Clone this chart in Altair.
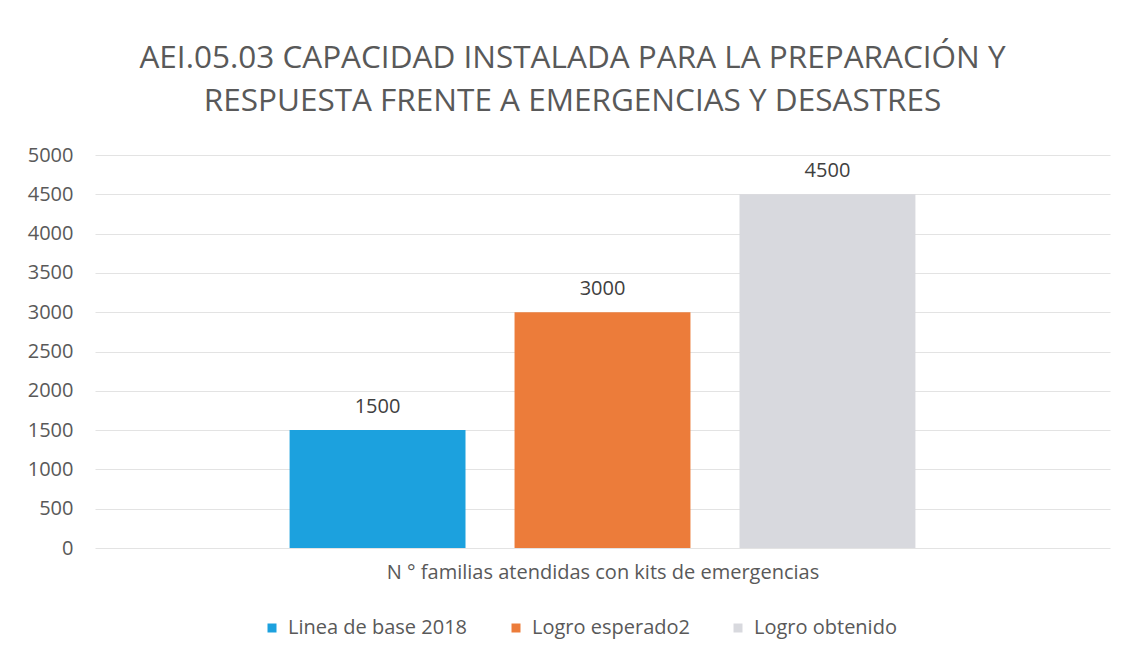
import altair as alt
import pandas as pd

series = ["Linea de base 2018", "Logro esperado2", "Logro obtenido"]
values = [1500, 3000, 4500]
colors = ["#1CA1DE", "#EC7C3A", "#D8D9DE"]
category_label = "N ° familias atendidas con kits de emergencias"
title_lines = ["AEI.05.03 CAPACIDAD INSTALADA PARA LA PREPARACIÓN Y",
               "RESPUESTA FRENTE A EMERGENCIAS Y DESASTRES"]
y_ticks = [0, 500, 1000, 1500, 2000, 2500, 3000, 3500, 4000, 4500, 5000]

df = pd.DataFrame({"serie": series, "valor": values})
FONT = "Open Sans"
FS = 20

x = alt.X("serie:N", sort=series,
          scale=alt.Scale(paddingInner=0.218, paddingOuter=0.865),
          axis=alt.Axis(labels=False, ticks=False, domain=False, grid=False,
                        title=category_label,
                        titleFont=FONT, titleFontSize=FS, titleFontWeight="normal",
                        titleColor="#595959", titlePadding=14))
y = alt.Y("valor:Q", scale=alt.Scale(domain=[0, 5000], nice=False),
          axis=alt.Axis(values=y_ticks, title=None, ticks=False, domain=False,
                        format="d", labelOverlap=False,
                        labelFont=FONT, labelFontSize=FS, labelColor="#595959",
                        labelPadding=22, gridColor="#E3E3E3", gridWidth=1))

bars = alt.Chart(df).mark_bar().encode(
    x=x, y=y,
    color=alt.Color("serie:N", sort=series,
                    scale=alt.Scale(domain=series, range=colors),
                    legend=alt.Legend(title=None, orient="none", direction="horizontal",
                                      legendX=167, legendY=463,
                                      symbolType="square", symbolSize=81,
                                      symbolStrokeWidth=0, labelFont=FONT,
                                      labelFontSize=FS, labelColor="#595959",
                                      labelLimit=300,
                                      columnPadding=38, labelOffset=6))
)

labels = alt.Chart(df).mark_text(baseline="bottom", dy=-13, font=FONT,
                                 fontSize=FS, color="#404040").encode(
    x=x, y=y, text="valor:Q")

chart = (bars + labels).properties(
    width=1015, height=393,
    autosize=alt.AutoSizeParams(type="none"),
    padding={"left": 87, "top": 147, "right": 2, "bottom": 100},
    title=alt.TitleParams(text=title_lines, font=FONT, fontSize=31.5,
                          fontWeight="normal", color="#595959", anchor="middle",
                          dx=-30, offset=28, lineHeight=43),
).configure(background="white").configure_view(stroke=None)

chart.save("out.html", embed_options={"renderer": "svg", "actions": False})
